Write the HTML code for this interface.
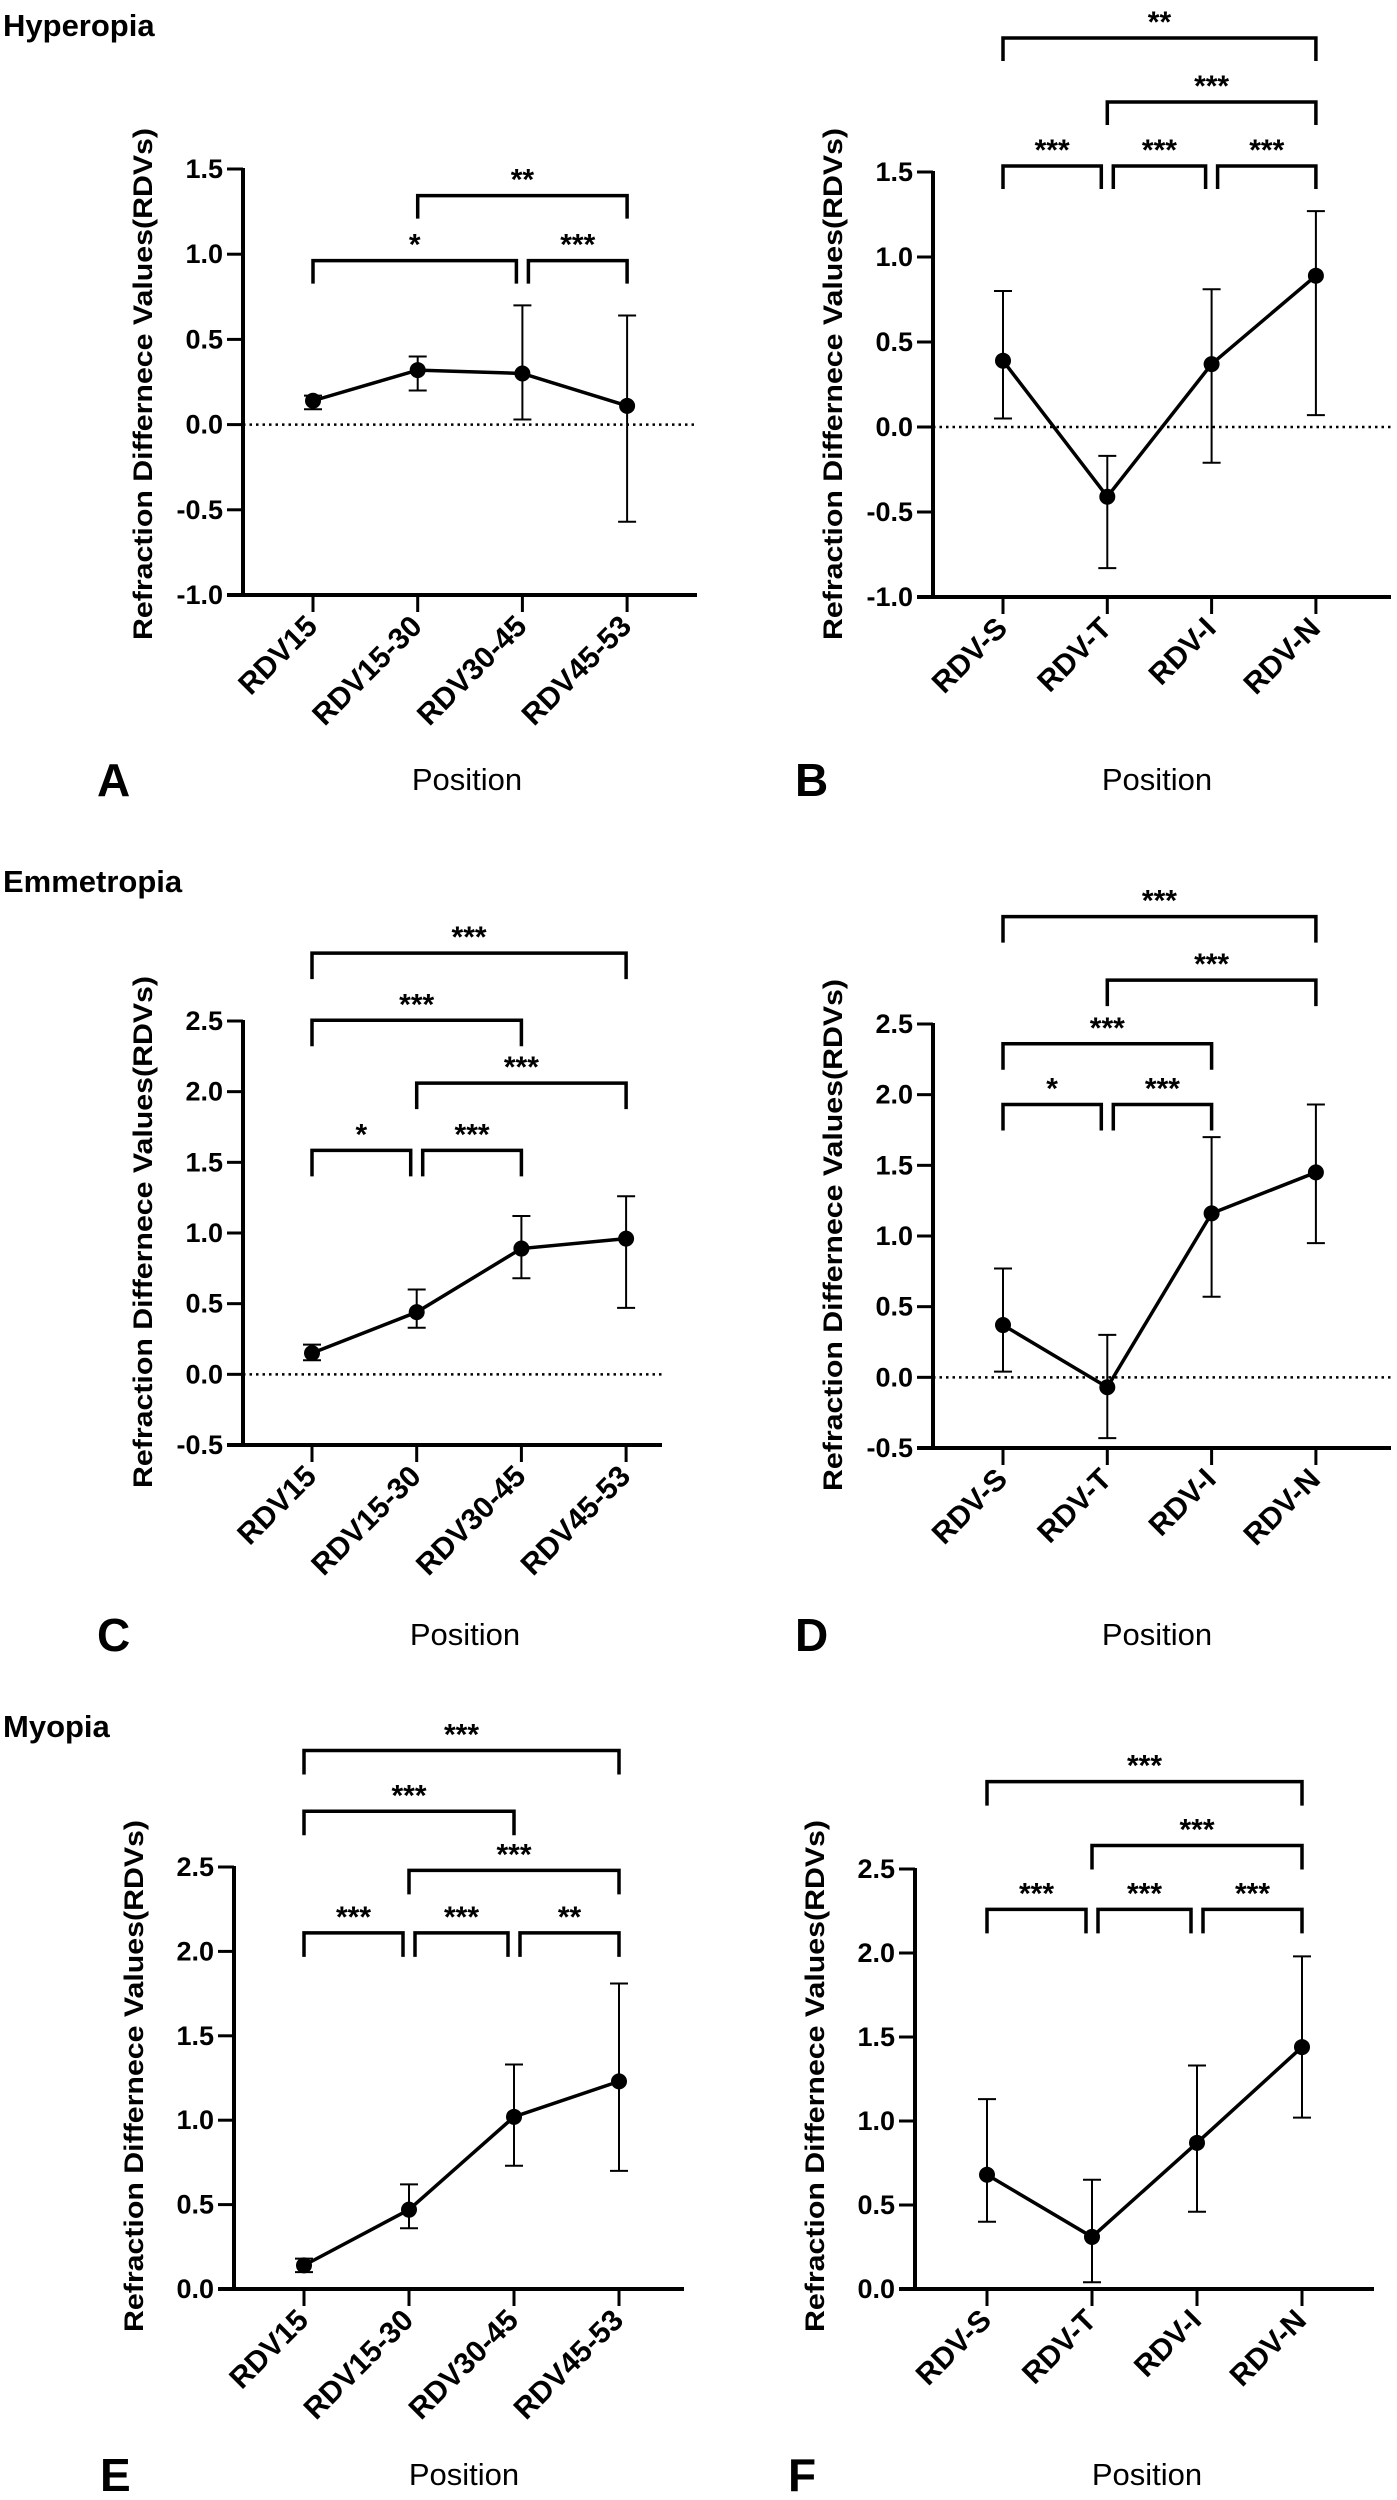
<!DOCTYPE html>
<html><head><meta charset="utf-8"><style>
html,body{margin:0;padding:0;background:#fff;}
svg{display:block;font-family:"Liberation Sans",Arial,sans-serif;}
</style></head><body>
<svg id="fig" width="1397" height="2500" viewBox="0 0 1397 2500" xmlns="http://www.w3.org/2000/svg"></svg>
<script>
// ---- data ----
const catsLeft = ["RDV15","RDV15-30","RDV30-45","RDV45-53"];
const catsRight = ["RDV-S","RDV-T","RDV-I","RDV-N"];
const meanA = [0.14, 0.32, 0.30, 0.11];
const lowA  = [0.09, 0.20, 0.03, -0.57];
const highA = [0.17, 0.40, 0.70, 0.64];
const meanB = [0.39, -0.41, 0.37, 0.89];
const lowB  = [0.05, -0.83, -0.21, 0.07];
const highB = [0.80, -0.17, 0.81, 1.27];
const meanC = [0.15, 0.44, 0.89, 0.96];
const lowC  = [0.10, 0.33, 0.68, 0.47];
const highC = [0.21, 0.60, 1.12, 1.26];
const meanD = [0.37, -0.07, 1.16, 1.45];
const lowD  = [0.04, -0.43, 0.57, 0.95];
const highD = [0.77, 0.30, 1.70, 1.93];
const meanE = [0.14, 0.47, 1.02, 1.23];
const lowE  = [0.10, 0.36, 0.73, 0.70];
const highE = [0.18, 0.62, 1.33, 1.81];
const meanF = [0.68, 0.31, 0.87, 1.44];
const lowF  = [0.40, 0.04, 0.46, 1.02];
const highF = [1.13, 0.65, 1.33, 1.98];
const ticksHyper = [-1.0, -0.5, 0.0, 0.5, 1.0, 1.5];
const ticksEmme = [-0.5, 0.0, 0.5, 1.0, 1.5, 2.0, 2.5];
const ticksMyo = [0.0, 0.5, 1.0, 1.5, 2.0, 2.5];
// significance brackets: [from, to, level(value units), label, trimLeft, trimRight]
const sigA = [[1,3,1.344,"**",0,0],[0,2,0.962,"*",0,1],[2,3,0.962,"***",1,0]];
const sigB = [[0,3,2.288,"**",0,0],[1,3,1.912,"***",0,0],[0,1,1.535,"***",0,1],[1,2,1.535,"***",1,1],[2,3,1.535,"***",1,0]];
const sigC = [[0,3,2.98,"***",0,0],[0,2,2.505,"***",0,0],[1,3,2.06,"***",0,0],[0,1,1.585,"*",0,1],[1,2,1.585,"***",1,0]];
const sigD = [[0,3,3.26,"***",0,0],[1,3,2.81,"***",0,0],[0,2,2.36,"***",0,0],[0,1,1.93,"*",0,1],[1,2,1.93,"***",1,0]];
const sigE = [[0,3,3.19,"***",0,0],[0,2,2.83,"***",0,0],[1,3,2.48,"***",0,0],[0,1,2.11,"***",0,1],[1,2,2.11,"***",1,1],[2,3,2.11,"**",1,0]];
const sigF = [[0,3,3.02,"***",0,0],[1,3,2.64,"***",0,0],[0,1,2.26,"***",0,1],[1,2,2.26,"***",1,1],[2,3,2.26,"***",1,0]];

const NS="http://www.w3.org/2000/svg";
const svg=document.getElementById("fig");
function mk(tag,attrs,parent,text){const e=document.createElementNS(NS,tag);for(const k in attrs)e.setAttribute(k,attrs[k]);if(text!==undefined)e.textContent=text;(parent||svg).appendChild(e);return e;}

function panel(id,L,cats,mean,low,high,ticks,sig){
  const g=mk("g",{});
  
  
  const ymin=ticks[0], ymax=ticks[ticks.length-1];
  const y=v=>L.yBot-(v-ymin)/(ymax-ymin)*(L.yBot-L.yTop);
  const x=i=>L.x0+i*L.dx;
  const ya=mk("line",{x1:L.ax,y1:y(ymax)-1,x2:L.ax,y2:L.yBot+2,stroke:"#000","stroke-width":4},g);
  
  
  const xa=mk("line",{x1:L.ax-16,y1:L.yBot,x2:L.xEnd,y2:L.yBot,stroke:"#000","stroke-width":4},g);
  
  
  ticks.forEach(t=>{
    mk("line",{x1:L.ax-16,y1:y(t),x2:L.ax,y2:y(t),stroke:"#000","stroke-width":3},g);
    const tl=mk("text",{x:L.ax-20,y:y(t)+9,"text-anchor":"end","font-size":27,"font-weight":"bold"},g,t.toFixed(1));
    
    
  });
  if(ymin<0){
    const z=mk("line",{x1:L.ax,y1:y(0),x2:L.xEnd,y2:y(0),stroke:"#000","stroke-width":2.5,"stroke-dasharray":"2.5,4"},g);
    
    
  }
  cats.forEach((c,i)=>{
    mk("line",{x1:x(i),y1:L.yBot,x2:x(i),y2:L.yBot+17,stroke:"#000","stroke-width":3},g);
    const tx=x(i)+6, ty=L.yBot+33;
    const t=mk("text",{x:tx,y:ty,"text-anchor":"end","font-size":30,"font-weight":"bold",transform:`rotate(-45 ${tx} ${ty})`},g,c);
    
    
  });
  mean.forEach((m,i)=>{
    const eb=mk("g",{},g);
    
    
    mk("line",{x1:x(i),y1:y(low[i]),x2:x(i),y2:y(high[i]),stroke:"#000","stroke-width":2},eb);
    mk("line",{x1:x(i)-9,y1:y(low[i]),x2:x(i)+9,y2:y(low[i]),stroke:"#000","stroke-width":2},eb);
    mk("line",{x1:x(i)-9,y1:y(high[i]),x2:x(i)+9,y2:y(high[i]),stroke:"#000","stroke-width":2},eb);
  });
  const pl=mk("polyline",{points:mean.map((m,i)=>x(i)+","+y(m)).join(" "),fill:"none",stroke:"#000","stroke-width":3.5},g);
  
  
  mean.forEach((m,i)=>{
    const c=mk("circle",{cx:x(i),cy:y(m),r:8,fill:"#000"},g);
    
    
  });
  sig.forEach(s=>{
    const b=mk("g",{},g);
    
    
    const x1=x(s[0])+(s[4]?6:0), x2=x(s[1])-(s[5]?6:0);
    const yt=y(s[2]), yl=yt+L.leg;
    mk("polyline",{points:`${x1},${yl} ${x1},${yt} ${x2},${yt} ${x2},${yl}`,fill:"none",stroke:"#000","stroke-width":3.5},b);
    mk("text",{x:(x1+x2)/2,y:yt-6,"text-anchor":"middle","font-size":30,"font-weight":"bold"},b,s[3]);
  });
  const yt=mk("text",{x:L.ytx,y:L.yty,"text-anchor":"middle","font-size":27,"font-weight":"bold",textLength:512,lengthAdjust:"spacingAndGlyphs",transform:`rotate(-90 ${L.ytx} ${L.yty})`},g,"Refraction Differnece Values(RDVs)");
  
  
  const xt=mk("text",{x:L.px,y:L.py,"text-anchor":"middle","font-size":31},g,"Position");
  
  
  const lt=mk("text",{x:L.lx,y:L.py+6,"font-size":46,"font-weight":"bold"},g,id);
  
  
}

panel("A",{ax:243,x0:313,dx:104.7,xEnd:697,yTop:169,yBot:595,leg:23,ytx:152,yty:384,px:467,py:790,lx:97},catsLeft,meanA,lowA,highA,ticksHyper,sigA);
panel("B",{ax:933,x0:1003,dx:104.3,xEnd:1391,yTop:172,yBot:597,leg:23,ytx:842,yty:384,px:1157,py:790,lx:795},catsRight,meanB,lowB,highB,ticksHyper,sigB);
panel("C",{ax:243,x0:312,dx:104.7,xEnd:662,yTop:1021,yBot:1445,leg:26,ytx:152,yty:1232,px:465,py:1645,lx:97},catsLeft,meanC,lowC,highC,ticksEmme,sigC);
panel("D",{ax:933,x0:1003,dx:104.3,xEnd:1391,yTop:1024,yBot:1448,leg:26,ytx:842,yty:1235,px:1157,py:1645,lx:795},catsRight,meanD,lowD,highD,ticksEmme,sigD);
panel("E",{ax:234,x0:304,dx:105,xEnd:684,yTop:1867,yBot:2289,leg:24,ytx:143,yty:2076,px:464,py:2485,lx:100},catsLeft,meanE,lowE,highE,ticksMyo,sigE);
panel("F",{ax:915,x0:987,dx:105,xEnd:1374,yTop:1869,yBot:2289,leg:24,ytx:824,yty:2076,px:1147,py:2485,lx:788},catsRight,meanF,lowF,highF,ticksMyo,sigF);

[["Hyperopia",36],["Emmetropia",892],["Myopia",1737]].forEach(r=>{
  const t=mk("text",{x:3,y:r[1],"font-size":31,"font-weight":"bold"},svg,r[0]);
  
  
});
</script>
</body></html>
